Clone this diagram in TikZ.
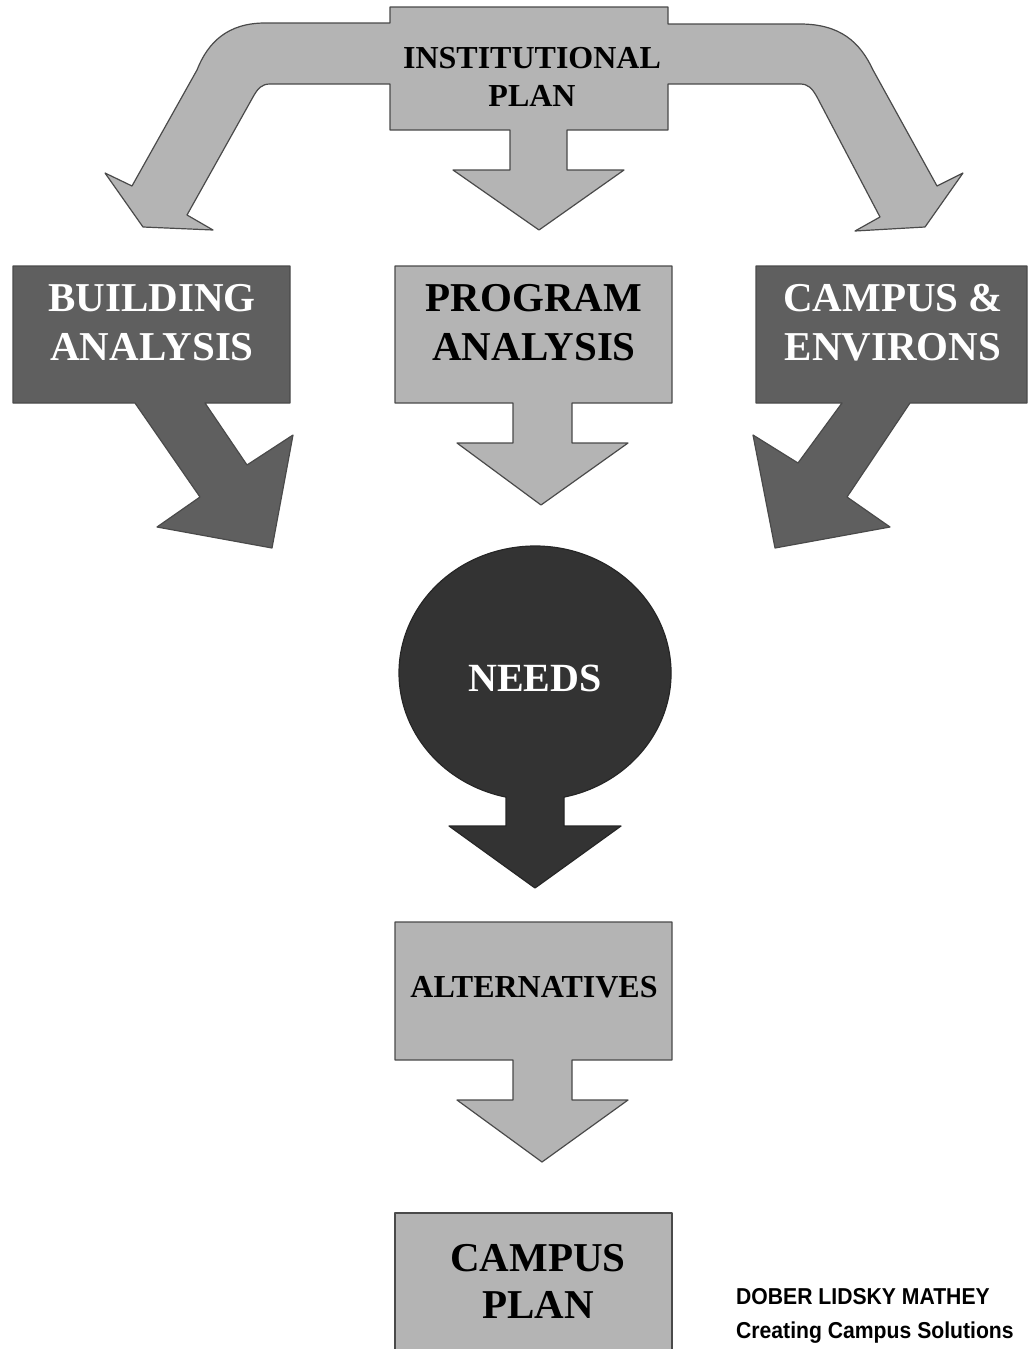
\documentclass[tikz,border=0pt]{standalone}
\usepackage{fontspec}
\setmainfont{Liberation Serif}
\newfontfamily\creditfont[FakeStretch=0.92]{Liberation Sans}
\definecolor{lightg}{HTML}{B4B4B4}
\definecolor{darkg}{HTML}{5F5F5F}
\definecolor{needsg}{HTML}{333333}
\definecolor{edgeg}{HTML}{4A4A4A}
\tikzset{
  lightshape/.style={fill=lightg,draw=edgeg,line width=1.2pt,line join=round},
  darkshape/.style={fill=darkg,draw=edgeg,line width=1.2pt,line join=round},
  needshape/.style={fill=needsg,draw=black!85,line width=1.2pt,line join=round},
  blacklabel/.style={text=black,align=center,inner sep=0pt},
  whitelabel/.style={text=white,align=center,inner sep=0pt},
  credit/.style={text=black,anchor=west,inner sep=0pt,font=\creditfont\bfseries\fontsize{23}{27}\selectfont}
}
\begin{document}
\begin{tikzpicture}[x=1pt,y=-1pt]
\useasboundingbox (0,0) rectangle (1029,1349);

% ---------- Institutional plan (box + band + three arrows) ----------
\path[lightshape] (390,7) -- (668,7) -- (668,24) -- (800,24)
  .. controls (840,24) and (860,42) .. (873,70)
  -- (937,186) -- (963,173) -- (925,227) -- (855,231) -- (880,217)
  -- (817,97) .. controls (812,88) and (808,84) .. (800,84)
  -- (668,84) -- (668,130) -- (567,130) -- (567,170) -- (624,170)
  -- (539,230) -- (453,170) -- (510,170) -- (510,130) -- (390,130)
  -- (390,84) -- (270,84) .. controls (262,84) and (258,88) .. (253,97)
  -- (187,215) -- (213,230) -- (143,227) -- (105,173) -- (132,186)
  -- (197,70) .. controls (208,42) and (228,23) .. (265,23)
  -- (390,23) -- cycle;
\node[blacklabel,font=\bfseries\fontsize{32}{38}\selectfont] (inst) at (532,77) {INSTITUTIONAL\\PLAN};

% ---------- Building analysis ----------
\path[darkshape] (13,266) -- (290,266) -- (290,403) -- (205,403) -- (247,465)
  -- (293,435) -- (272,548) -- (157,527) -- (200,497) -- (135,403)
  -- (13,403) -- cycle;
\node[whitelabel,font=\bfseries\fontsize{41}{49}\selectfont] (build) at (152,323) {BUILDING\\ANALYSIS};

% ---------- Program analysis ----------
\path[lightshape] (395,266) -- (672,266) -- (672,403) -- (572,403) -- (572,443)
  -- (628,443) -- (541,505) -- (457,443) -- (513,443) -- (513,403)
  -- (395,403) -- cycle;
\node[blacklabel,font=\bfseries\fontsize{41}{49}\selectfont] (prog) at (534,323) {PROGRAM\\ANALYSIS};

% ---------- Campus & environs ----------
\path[darkshape] (756,266) -- (1027,266) -- (1027,403) -- (910,403) -- (847,497)
  -- (890,527) -- (775,548) -- (753,435) -- (798,463) -- (842,403)
  -- (756,403) -- cycle;
\node[whitelabel,font=\bfseries\fontsize{41}{49}\selectfont] (camp) at (893,323) {CAMPUS \&\\ENVIRONS};

% ---------- Needs ----------
\path[needshape] (564,797.1)
  arc[start angle=77.7, end angle=-257.7, x radius=136, y radius=127]
  -- (506,826) -- (449,826) -- (535,888) -- (621,826) -- (564,826) -- cycle;
\node[whitelabel,font=\bfseries\fontsize{40}{48}\selectfont] (needs) at (535,678) {NEEDS};

% ---------- Alternatives ----------
\path[lightshape] (395,922) -- (672,922) -- (672,1060) -- (572,1060) -- (572,1100)
  -- (628,1100) -- (542,1162) -- (457,1100) -- (513,1100) -- (513,1060)
  -- (395,1060) -- cycle;
\node[blacklabel,font=\bfseries\fontsize{32}{38}\selectfont] (alt) at (534,987) {ALTERNATIVES};

% ---------- Campus plan ----------
\path[lightshape] (395,1362) -- (395,1213) -- (672,1213) -- (672,1362);
\node[blacklabel,font=\bfseries\fontsize{41}{47}\selectfont] (plan) at (538,1281) {CAMPUS\\PLAN};

% ---------- Credit ----------
\node[credit] (firm) at (736,1297) {DOBER LIDSKY MATHEY};
\node[credit] (slogan) at (736,1333) {Creating Campus Solutions};
\end{tikzpicture}
\end{document}
